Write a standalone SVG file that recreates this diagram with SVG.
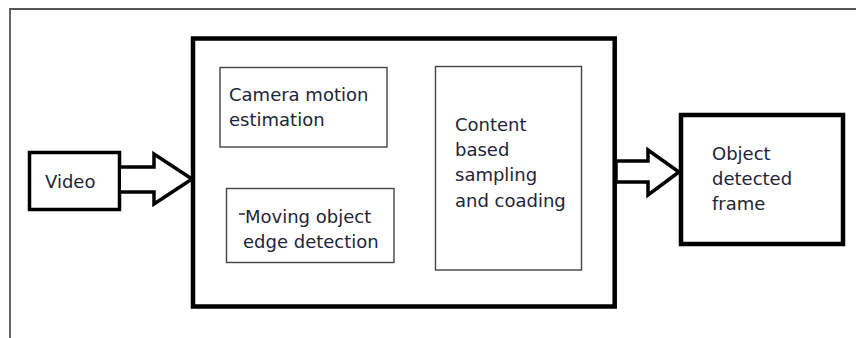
<svg xmlns="http://www.w3.org/2000/svg" width="856" height="338" viewBox="0 0 856 338">
<style>
.frame{fill:none;stroke:#555;stroke-width:1.8}
.thick{fill:#fff;stroke:#000;stroke-width:4.5}
.med{fill:#fff;stroke:#000;stroke-width:3.5}
.thin{fill:#fff;stroke:#444;stroke-width:1.4}
.arrow{fill:#fff;stroke:#000;stroke-width:3.5;stroke-linejoin:miter}
text{font-family:"DejaVu Sans",sans-serif;font-size:18px;fill:#1e2438}
</style>
<rect width="856" height="338" fill="#fff"/>
<path class="frame" d="M10,338 V9 H856"/>
<g id="main">
<rect class="thick" x="193" y="38.5" width="421.7" height="268"/>
</g>
<g id="camera">
<rect class="thin" x="220" y="67.5" width="167" height="79.5"/>
<text x="229" y="101">Camera motion</text>
<text x="229" y="126">estimation</text>
</g>
<g id="moving">
<rect class="thin" x="226.5" y="188.5" width="167.5" height="74"/>
<text x="245" y="223">Moving object</text>
<text x="243" y="248">edge detection</text>
<line x1="239" y1="214" x2="245" y2="214" stroke="#1e2438" stroke-width="1.5"/>
</g>
<g id="content">
<rect class="thin" x="435.5" y="66.5" width="146" height="203.5"/>
<text x="455" y="131">Content</text>
<text x="455" y="156">based</text>
<text x="455" y="181">sampling</text>
<text x="455" y="207">and coading</text>
</g>
<g id="video">
<rect class="med" x="29.5" y="152.5" width="90" height="57"/>
<text x="45" y="188">Video</text>
</g>
<g id="output">
<rect class="thick" x="681" y="115" width="162" height="129"/>
<text x="712" y="160">Object</text>
<text x="712" y="185">detected</text>
<text x="712" y="210">frame</text>
</g>
<g id="connectors">
<path class="arrow" d="M121,167 H154 V154 L192,179 L154,204 V192 H121"/>
<path class="arrow" d="M616,161 H648 V150 L679,172 L648,195 V182 H616 Z"/>
</g>
</svg>
